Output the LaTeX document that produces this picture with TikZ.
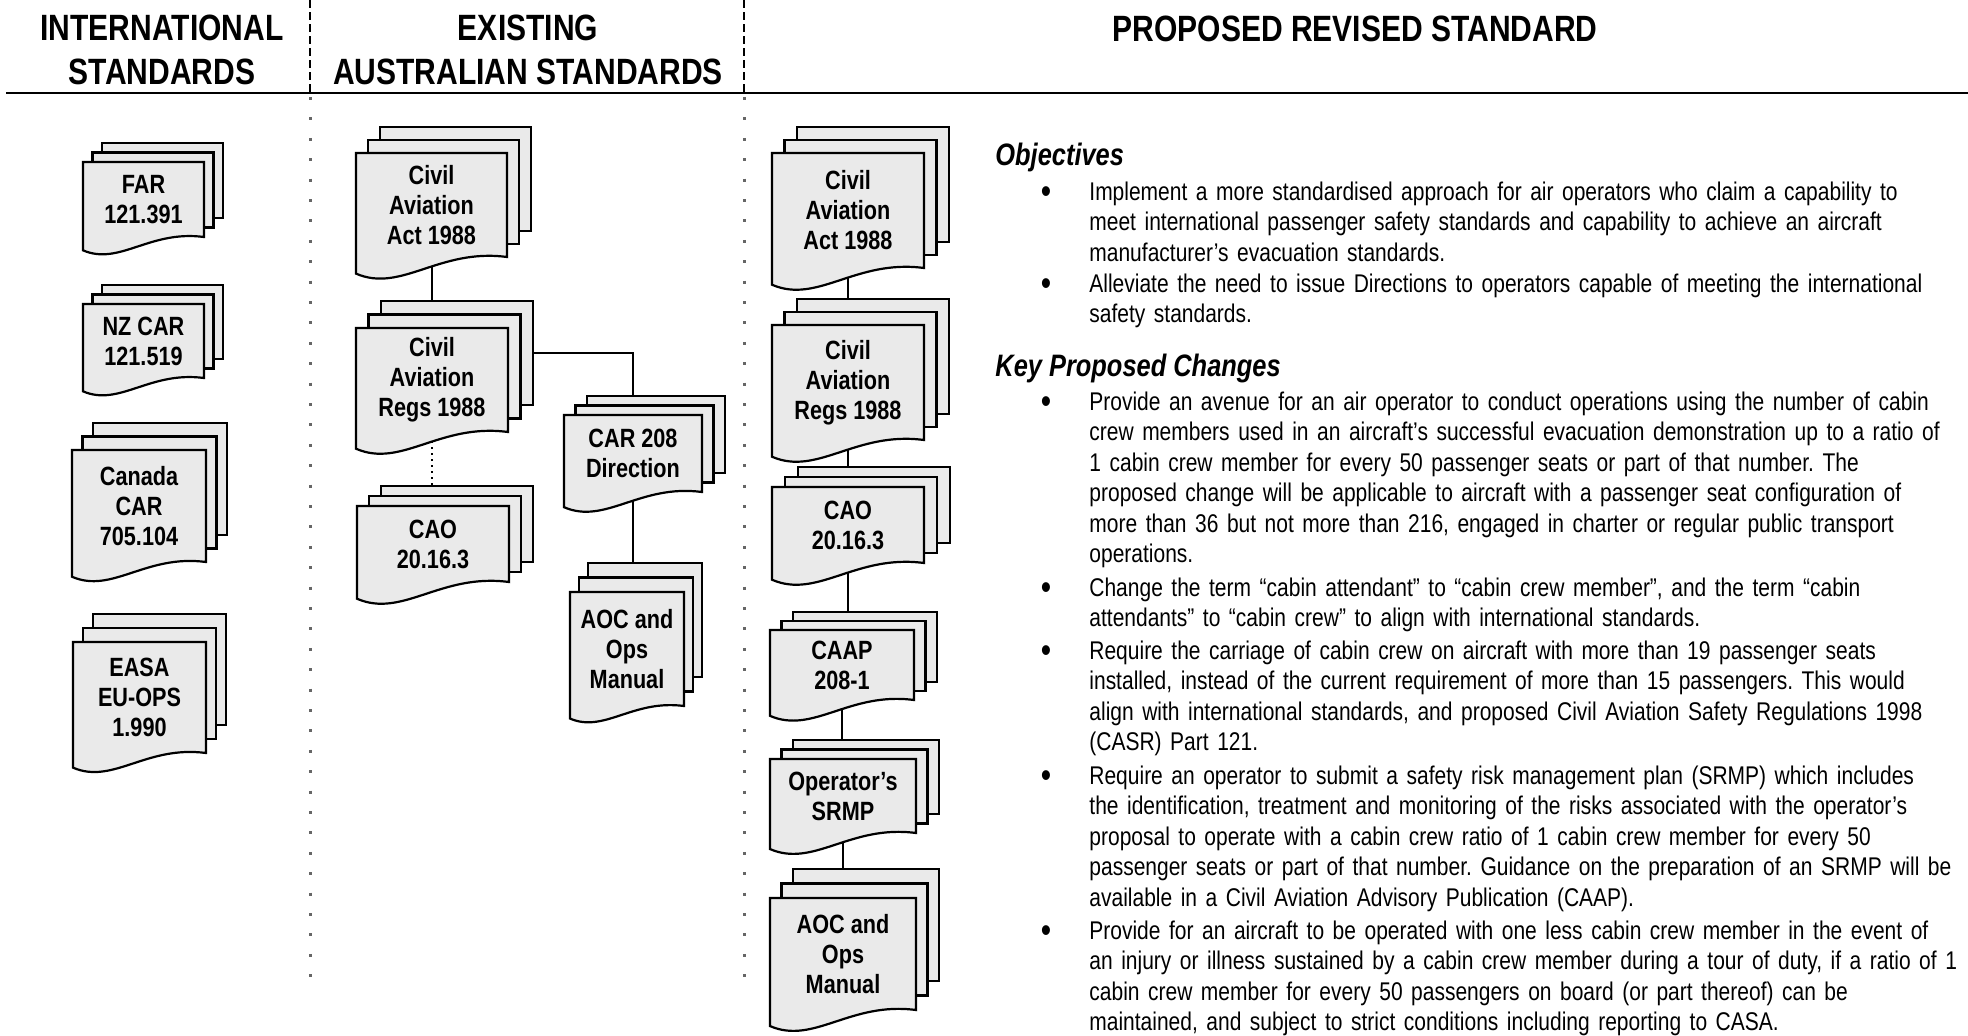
\documentclass[tikz,border=0pt]{standalone}
\usepackage{fontspec}
\setmainfont{Liberation Sans}[FakeStretch=0.82]
\usepackage{xcolor}
\definecolor{sheetgray}{HTML}{EAEAEA}
\frenchspacing

% stack of three sheets: name, x, y, width, height, dx, dy, text
\newcommand{\docstack}[8]{%
  \filldraw[sheet] (#2+2*#6,#3-2*#7) rectangle ++(#4,#5);
  \filldraw[sheet] (#2+#6,#3-#7) rectangle ++(#4,#5);
  \filldraw[sheet] (#2,#3) -- ++(#4,0) -- ++(0,#5)
    .. controls (#2+0.55*#4,#3+#5-0.06*#4) and (#2+0.3*#4,#3+#5+0.24*#4) .. (#2,#3+#5+0.11*#4) -- cycle;
  \coordinate (#1-top) at (#2+2*#6+0.5*#4,#3-2*#7);
  \coordinate (#1-bot) at (#2+0.5*#4,#3+#5+0.06*#4);
  \coordinate (#1-east) at (#2+2*#6+#4,#3-2*#7+0.5*#5);
  \node[doc text] (#1) at (#2+0.5*#4,#3+0.5*#5) {#8};
}

\begin{document}
\begin{tikzpicture}[x=0.5pt,y=-0.5pt,
  sheet/.style={draw=black,fill=sheetgray,line width=1.1pt},
  doc text/.style={align=center,inner sep=0pt,font=\fontsize{13.2}{15}\selectfont\bfseries},
  head/.style={align=center,inner sep=0pt,font=\fontsize{18.3}{22}\selectfont\bfseries},
  subhead/.style={anchor=base west,inner sep=0pt,font=\fontsize{15.5}{18}\selectfont\bfseries\itshape},
  body/.style={anchor=base west,text width=480pt,align=left,inner sep=0pt,font=\fontsize{12.8}{15.25}\selectfont},
  bulletdot/.style={anchor=base,inner sep=0pt,yshift=-1.5pt,font=\fontsize{18}{18}\selectfont}]
\tikzstyle{link} = [draw,line width=1pt]
\tikzstyle{div dash} = [line width=0.75pt,dash pattern=on 4pt off 2pt]
\tikzstyle{div dot} = [line width=1.5pt,black!60,dash pattern=on 1.5pt off 8.7pt]
\useasboundingbox (0,0) rectangle (1968,1035);

% Column heads
\node[head] (INT) at (162,49.5) {INTERNATIONAL\\STANDARDS};
\node[head] (EXI) at (528,49.5) {EXISTING\\AUSTRALIAN STANDARDS};
\node[head] (PRO) at (1355,29) {PROPOSED REVISED STANDARD};
\draw[line width=1.4pt] (6,93) -- (1968,93);
\draw[div dash] (310,0) -- (310,93);
\draw[div dot] (310,97) -- (310,980);
\draw[div dash] (744,0) -- (744,93);
\draw[div dot] (744,97) -- (744,980);

% International standards
\docstack{FAR}{83}{162}{121}{75}{9.5}{9.5}{FAR\\121.391}
\docstack{NZCAR}{83}{304}{121}{74}{9.5}{9.5}{NZ CAR\\121.519}
\docstack{CCAR}{72}{450}{134}{112}{10.5}{13.5}{Canada\\CAR\\705.104}
\docstack{EASA}{73}{642}{133}{111}{10}{14}{EASA\\EU-OPS\\1.990}

% Existing Australian standards
\docstack{ACT}{356}{153}{151}{104}{12}{13}{Civil\\Aviation\\Act 1988}
\docstack{REGS}{356}{328}{152}{104}{12.5}{13.5}{Civil\\Aviation\\Regs 1988}
\docstack{CAO}{357}{506}{152}{76}{12}{10}{CAO\\20.16.3}
\docstack{CAR}{564}{415}{138}{77}{11.5}{9.5}{CAR 208\\Direction}
\docstack{AOC}{570}{592}{114}{114}{9}{14.5}{AOC and\\Ops\\Manual}

\draw[link] (ACT-bot) -- (ACT-bot |- REGS-top);
\draw[link,dotted] (REGS-bot) -- (REGS-bot |- CAO-top);
\draw[link] (REGS-east) -| (CAR-bot |- CAR-top);
\draw[link] (CAR-bot) -- (CAR-bot |- AOC-top);

% Proposed revised standard
\docstack{pACT}{772}{153}{152}{115}{12.5}{13}{Civil\\Aviation\\Act 1988}
\docstack{pREGS}{772}{325}{152}{115}{12.5}{13}{Civil\\Aviation\\Regs 1988}
\docstack{pCAO}{772}{487}{152}{76}{13}{10}{CAO\\20.16.3}
\docstack{pCAAP}{770}{630}{144}{70}{11.5}{9}{CAAP\\208-1}
\docstack{pSRMP}{770}{759}{146}{74}{11.5}{9.5}{Operator’s\\SRMP}
\docstack{pAOC}{770}{898}{146}{112}{11.5}{14.5}{AOC and\\Ops\\Manual}

\foreach \a/\b in {pACT/pREGS,pREGS/pCAO,pCAO/pCAAP,pCAAP/pSRMP,pSRMP/pAOC}
  \draw[link] (\a-bot) -- (\a-bot |- \b-top);

% Objectives and changes
\node[subhead] (OBJ) at (995,165) {Objectives};
\node[bulletdot] (d1) at (1046,200) {\textbullet};
\node[body] (B1) at (1089,200) {Implement a more standardised approach for air operators who claim a capability to\\meet international passenger safety standards and capability to achieve an aircraft\\manufacturer’s evacuation standards.};
\node[bulletdot] (d2) at (1046,292) {\textbullet};
\node[body] (B2) at (1089,292) {Alleviate the need to issue Directions to operators capable of meeting the international\\safety standards.};

\node[subhead] (KEY) at (995,376) {Key Proposed Changes};
\node[bulletdot] (d3) at (1046,410) {\textbullet};
\node[body] (B3) at (1089,410) {Provide an avenue for an air operator to conduct operations using the number of cabin\\crew members used in an aircraft’s successful evacuation demonstration up to a ratio of\\1 cabin crew member for every 50 passenger seats or part of that number. The\\proposed change will be applicable to aircraft with a passenger seat configuration of\\more than 36 but not more than 216, engaged in charter or regular public transport\\operations.};
\node[bulletdot] (d4) at (1046,596) {\textbullet};
\node[body] (B4) at (1089,596) {Change the term “cabin attendant” to “cabin crew member”, and the term “cabin\\attendants” to “cabin crew” to align with international standards.};
\node[bulletdot] (d5) at (1046,659) {\textbullet};
\node[body] (B5) at (1089,659) {Require the carriage of cabin crew on aircraft with more than 19 passenger seats\\installed, instead of the current requirement of more than 15 passengers. This would\\align with international standards, and proposed Civil Aviation Safety Regulations 1998\\(CASR) Part 121.};
\node[bulletdot] (d6) at (1046,784) {\textbullet};
\node[body] (B6) at (1089,784) {Require an operator to submit a safety risk management plan (SRMP) which includes\\the identification, treatment and monitoring of the risks associated with the operator’s\\proposal to operate with a cabin crew ratio of 1 cabin crew member for every 50\\passenger seats or part of that number. Guidance on the preparation of an SRMP will be\\available in a Civil Aviation Advisory Publication (CAAP).};
\node[bulletdot] (d7) at (1046,939) {\textbullet};
\node[body] (B7) at (1089,939) {Provide for an aircraft to be operated with one less cabin crew member in the event of\\an injury or illness sustained by a cabin crew member during a tour of duty, if a ratio of 1\\cabin crew member for every 50 passengers on board (or part thereof) can be\\maintained, and subject to strict conditions including reporting to CASA.};

\end{tikzpicture}
\end{document}
